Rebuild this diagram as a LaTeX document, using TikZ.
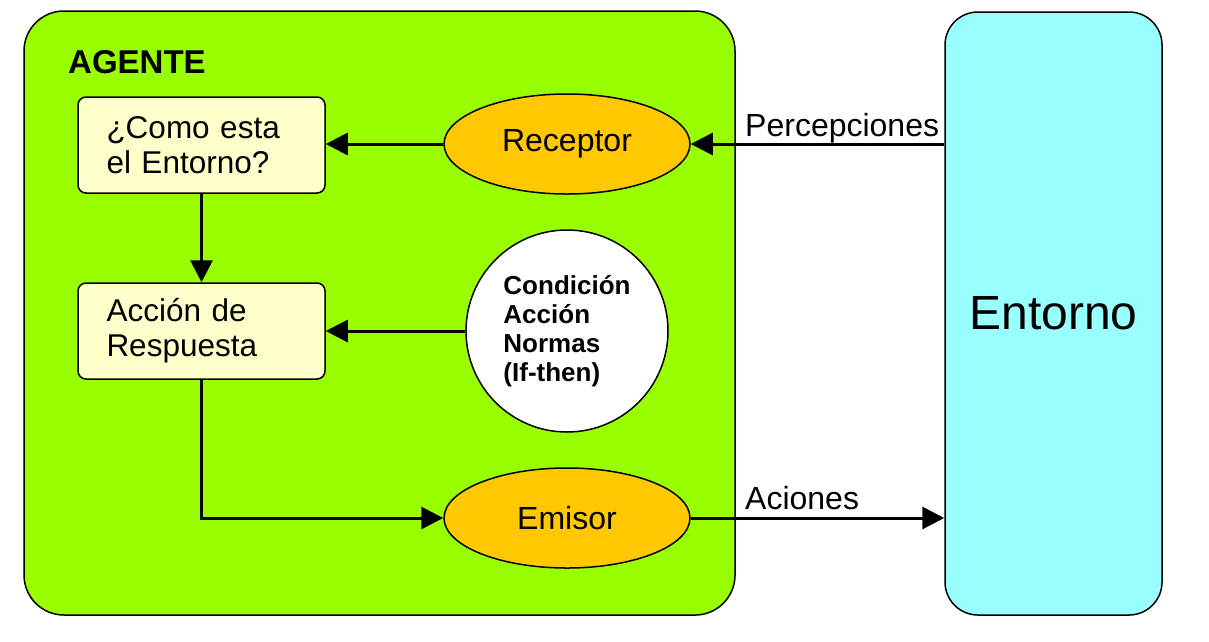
\documentclass[tikz,border=0pt]{standalone}
\usepackage{fontspec}
\setmainfont{Liberation Sans}
\usetikzlibrary{arrows.meta,shapes.geometric}
\definecolor{agentgreen}{HTML}{99FF00}
\definecolor{envcyan}{HTML}{99FFFF}
\definecolor{cream}{HTML}{FFFFCC}
\definecolor{orangefill}{HTML}{FFC800}
\tikzset{
  agentbox/.style={draw=black, line width=1.5pt, fill=agentgreen, rounded corners=40pt,
    minimum width=711pt, minimum height=604pt, inner sep=0pt},
  envbox/.style={draw=black, line width=1.5pt, fill=envcyan, rounded corners=33pt,
    minimum width=217pt, minimum height=603pt, inner sep=0pt,
    font=\fontsize{48}{52}\selectfont},
  statebox/.style={draw=black, line width=1.5pt, fill=cream, rounded corners=8pt,
    minimum width=247pt, minimum height=96pt, text width=190pt, align=left,
    inner xsep=28.5pt, inner ysep=0pt, font=\fontsize{31.5}{35}\selectfont},
  oval/.style={ellipse, draw=black, line width=1.5pt, fill=orangefill,
    minimum width=246pt, minimum height=100pt, inner sep=0pt,
    font=\fontsize{32}{35}\selectfont},
  rulecircle/.style={circle, draw=black, line width=1.5pt, fill=white,
    minimum size=202pt, inner sep=0pt, align=left,
    font=\bfseries\fontsize{26}{29}\selectfont},
  lbl/.style={inner sep=0pt, font=\fontsize{32}{35}\selectfont},
  arr/.style={line width=3pt, -{Triangle[length=22pt,width=22pt]}}
}
\begin{document}
\begin{tikzpicture}[x=1pt,y=-1pt]
\useasboundingbox (0,0) rectangle (1209,641);
\node[agentbox] (agent) at (379.5,313) {};
\node[envbox] (ent) at (1053.5,313.5) {Entorno};
\node[anchor=base west, inner sep=0pt, font=\bfseries\fontsize{33}{36}\selectfont] (agtitle) at (68,73) {AGENTE};
\node[statebox] (box1) at (201.5,145) {¿Como esta\\el Entorno?};
\node[statebox] (box2) at (201.5,331) {Acción de\\Respuesta};
\node[oval] (rec) at (567,144) {Receptor};
\node[oval] (emi) at (567,518) {Emisor};
\node[rulecircle] (circ) at (567,331) {Condición\\Acción\\Normas\\(If-then)};
\draw[arr] (rec.east -| ent.west) -- (rec.east);
\draw[arr] (rec.west) -- (rec.west -| box1.east);
\draw[arr] (box1.south) -- (box2.north);
\draw[arr] (circ.west) -- (circ.west -| box2.east);
\draw[arr] (box2.south) |- (emi.west);
\draw[arr] (emi.east) -- (emi.east -| ent.west);
\node[lbl, anchor=base west] (lperc) at (745,136) {Percepciones};
\node[lbl, anchor=base west] (lacc) at (745,509) {Aciones};
\end{tikzpicture}
\end{document}
